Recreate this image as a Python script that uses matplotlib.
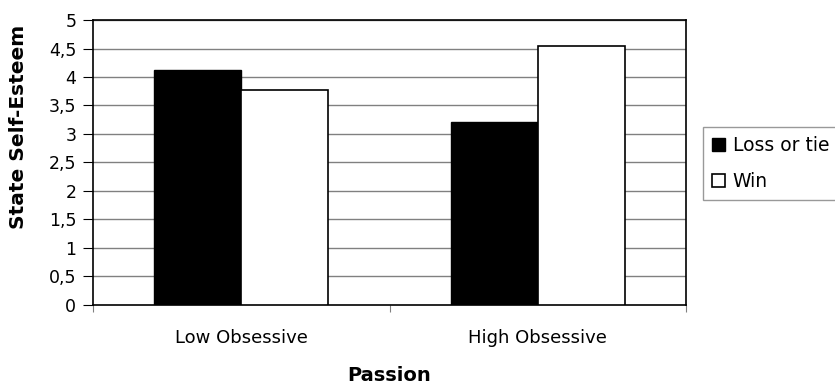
import matplotlib
matplotlib.use("Agg")
import matplotlib.pyplot as plt
import numpy as np

categories = ["Low Obsessive", "High Obsessive"]
loss_or_tie = [4.12, 3.21]
win = [3.77, 4.54]
yticks = [0, 0.5, 1, 1.5, 2, 2.5, 3, 3.5, 4, 4.5, 5]

plt.rcParams['font.family'] = ['DejaVu Sans']

fig = plt.figure(figsize=(8.35, 3.9), dpi=100)
ax = fig.add_axes([0.1114, 0.218, 0.7102, 0.7307])

x = np.arange(len(categories))
w = 0.293
ax.bar(x - w / 2, loss_or_tie, w, color="black", edgecolor="black", linewidth=1, label="Loss or tie", zorder=3)
ax.bar(x + w / 2, win, w, color="white", edgecolor="black", linewidth=1.2, label="Win", zorder=3)

ax.set_xlim(-0.5, 1.5)
ax.set_ylim(0, 5)
ax.set_yticks(yticks)
ax.set_yticklabels([("%g" % t).replace(".", ",") for t in yticks], fontsize=12.5)
for t in yticks[1:]:
    ax.axhline(t, color="#808080", linewidth=1, zorder=1)

ax.set_xticks([-0.5, 0.5, 1.5])
ax.set_xticklabels([])
ax.set_xticks(x, minor=True)
ax.set_xticklabels(categories, minor=True, fontsize=13)
ax.tick_params(axis="x", which="minor", length=0, pad=17)
ax.tick_params(axis="x", which="major", length=5, direction="out", color="#808080")
ax.tick_params(axis="y", length=7, direction="out", pad=5)

for s in ax.spines.values():
    s.set_linewidth(1.2)

ax.set_ylabel("State Self-Esteem", fontsize=14.5, fontweight="bold")
ax.yaxis.set_label_coords(-0.1095, 0.625)
ax.set_xlabel("Passion", fontsize=14, fontweight="bold", labelpad=14)

leg = ax.legend(loc="upper left", bbox_to_anchor=(1.028, 0.625), fontsize=13.5,
                frameon=True, fancybox=False, edgecolor="#808080",
                handlelength=0.7, handleheight=0.7, handletextpad=0.4,
                borderpad=0.5, labelspacing=0.9, borderaxespad=0)
leg.get_frame().set_linewidth(1)

fig.savefig("out.png", dpi=100)
